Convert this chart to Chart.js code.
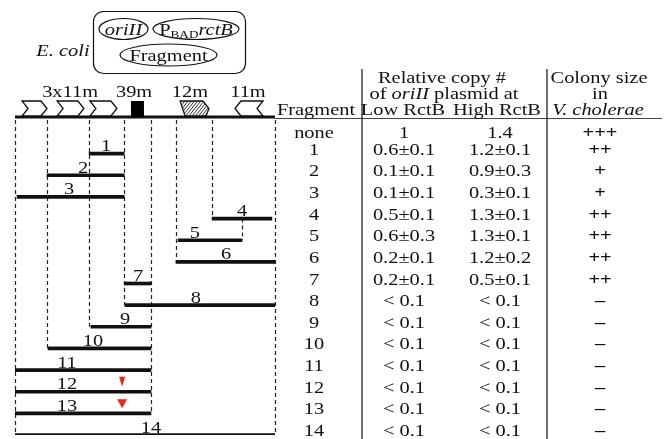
<!DOCTYPE html>
<html>
<head>
<meta charset="utf-8">
<script src="https://cdn.jsdelivr.net/npm/chart.js@4.4.1/dist/chart.umd.min.js"></script>
<style>
  html, body { margin: 0; padding: 0; background: #fff; }
  canvas { display: block; }
</style>
</head>
<body>
<canvas id="figure" width="665" height="439"></canvas>
<script>
// rows of the table, first one has no fragment
const rows = ['none', '1', '2', '3', '4', '5', '6', '7', '8', '9', '10', '11', '12', '13', '14'];
// fragment ends in map units (0 = left end of map, 100 = right end)
const fragStart = [null, 28.5, 12.3, 0.8, 75.8, 62.7, 61.9, 42, 42.3, 29.2, 12.7, 0, 0, 0, 0];
const fragEnd = [null, 42, 42, 42, 98.8, 87.3, 100, 52.3, 100, 52.3, 52.3, 52.3, 52.3, 52.3, 100];
const lowRctB = ['1', '0.6±0.1', '0.1±0.1', '0.1±0.1', '0.5±0.1', '0.6±0.3', '0.2±0.1', '0.2±0.1',
                 '< 0.1', '< 0.1', '< 0.1', '< 0.1', '< 0.1', '< 0.1', '< 0.1'];
const highRctB = ['1.4', '1.2±0.1', '0.9±0.3', '0.3±0.1', '1.3±0.1', '1.3±0.1', '1.2±0.2', '0.5±0.1',
                  '< 0.1', '< 0.1', '< 0.1', '< 0.1', '< 0.1', '< 0.1', '< 0.1'];
const colonySize = ['+++', '++', '+', '+', '++', '++', '++', '++', '–', '–', '–', '–', '–', '–', '–'];

// features on the map
const featureNames = ['3x11m', '39m', '12m', '11m'];
const featureLabelAt = [21.2, 45.8, 67.3, 89.6];
const repeatStart = [2.7, 16.2, 28.8];
const repeatEnd = [12.3, 26.5, 39.2];
const box39m = [44.6, 49.6];
const hatch12m = [63.5, 74.6];
const rev11m = [84.6, 95.4];

// red marks on fragments 12 and 13
const mutRows = [12, 13];
const mutAt = [41.2, 41.2];

// dashed guides: position, first row (0 = from the map), last row
const guideAt = [0, 12.3, 28.5, 42, 52.3, 61.9, 75.8, 87.3, 100];
const guideFrom = [0, 0, 0, 0, 0, 0, 0, 4, 0];
const guideTo = [14, 10, 9, 8, 13, 6, 4, 5, 14];

// where the fragment numbers sit
const labelAt = [null, 35, 26.2, 20.8, 87.3, 69.2, 81.2, 47.3, 69.6, 42.3, 30, 20, 20, 20, 52.3];

const SERIF = '"Liberation Serif", "Times New Roman", serif';
const STRETCH = 1.2;
const MAP_Y = 117;

function font(style, size) {
  return style + ' ' + size + 'px ' + SERIF;
}

function txt(ctx, s, x, y, f) {
  ctx.save();
  ctx.font = f || font('', 17);
  ctx.translate(x, y);
  ctx.scale(STRETCH, 1);
  ctx.textAlign = 'center';
  ctx.textBaseline = 'alphabetic';
  ctx.fillText(s, 0, 0);
  ctx.restore();
}

// pieces of text with their own font, centred on cx
function runs(ctx, parts, cx, y) {
  let total = 0;
  parts.forEach(p => {
    ctx.font = p.f;
    p.w = ctx.measureText(p.t).width * STRETCH;
    total += p.w;
  });
  let x = cx - total / 2;
  parts.forEach(p => {
    txt(ctx, p.t, x + p.w / 2, y + (p.dy || 0), p.f);
    x += p.w;
  });
}

function ellipse(ctx, cx, cy, rx, ry) {
  ctx.beginPath();
  ctx.ellipse(cx, cy, rx, ry, 0, 0, Math.PI * 2);
  ctx.stroke();
}

const decor = {
  id: 'decor',
  beforeDatasetsDraw(chart) {
    const ctx = chart.ctx;
    const xs = chart.scales.x, ys = chart.scales.y;
    ctx.save();
    ctx.strokeStyle = '#222';
    ctx.lineWidth = 1.2;
    ctx.setLineDash([4, 3]);
    guideAt.forEach((g, i) => {
      const x = Math.round(xs.getPixelForValue(g)) + 0.5;
      const y0 = guideFrom[i] === 0 ? MAP_Y + 3 : ys.getPixelForValue(guideFrom[i]);
      const y1 = ys.getPixelForValue(guideTo[i]);
      ctx.beginPath();
      ctx.moveTo(x, y0);
      ctx.lineTo(x, y1);
      ctx.stroke();
    });
    ctx.restore();
  },
  afterDatasetsDraw(chart) {
    const ctx = chart.ctx;
    const xs = chart.scales.x, ys = chart.scales.y;
    const px = v => xs.getPixelForValue(v);
    ctx.save();
    ctx.fillStyle = '#111';
    ctx.strokeStyle = '#111';

    // fragment numbers
    rows.forEach((r, i) => {
      if (labelAt[i] == null) return;
      txt(ctx, r, px(labelAt[i]), ys.getPixelForValue(i) - 2.5);
    });

    // red marks
    ctx.fillStyle = '#f0241c';
    mutRows.forEach((r, i) => {
      const x = px(mutAt[i]);
      const tip = ys.getPixelForValue(r) - 5;
      const hw = i === 0 ? 3 : 5, h = i === 0 ? 10 : 9;
      ctx.beginPath();
      ctx.moveTo(x - hw, tip - h);
      ctx.lineTo(x + hw, tip - h);
      ctx.lineTo(x, tip);
      ctx.closePath();
      ctx.fill();
    });
    ctx.fillStyle = '#111';

    // map line
    ctx.lineWidth = 3;
    ctx.beginPath();
    ctx.moveTo(px(0), MAP_Y);
    ctx.lineTo(px(100), MAP_Y);
    ctx.stroke();

    // features
    const top = 101, bot = 116, mid = (top + bot) / 2;
    ctx.lineWidth = 1.3;
    ctx.lineJoin = 'miter';
    repeatStart.forEach((s, i) => {
      const x0 = px(s), x1 = px(repeatEnd[i]), k = 6;
      ctx.beginPath();
      ctx.moveTo(x0, top); ctx.lineTo(x1 - k, top); ctx.lineTo(x1, mid);
      ctx.lineTo(x1 - k, bot); ctx.lineTo(x0, bot); ctx.lineTo(x0 + k, mid);
      ctx.closePath();
      ctx.fillStyle = '#fff'; ctx.fill(); ctx.stroke();
    });
    {
      const x0 = px(rev11m[0]), x1 = px(rev11m[1]), k = 6;
      ctx.beginPath();
      ctx.moveTo(x1, top); ctx.lineTo(x0 + k, top); ctx.lineTo(x0, mid);
      ctx.lineTo(x0 + k, bot); ctx.lineTo(x1, bot); ctx.lineTo(x1 - k, mid);
      ctx.closePath();
      ctx.fillStyle = '#fff'; ctx.fill(); ctx.stroke();
    }
    ctx.fillStyle = '#000';
    ctx.fillRect(px(box39m[0]), top, px(box39m[1]) - px(box39m[0]), bot - top + 1);
    {
      const x0 = px(hatch12m[0]), x1 = px(hatch12m[1]);
      const outline = () => {
        ctx.beginPath();
        ctx.moveTo(x0, top); ctx.lineTo(x1 - 6, top); ctx.lineTo(x1, mid);
        ctx.lineTo(x1 - 3, bot); ctx.lineTo(x0 + 5, bot);
        ctx.closePath();
      };
      outline();
      ctx.save();
      ctx.fillStyle = '#fff'; ctx.fill();
      ctx.clip();
      ctx.lineWidth = 1;
      ctx.strokeStyle = '#333';
      for (let x = x0 - 20; x < x1 + 5; x += 3.2) {
        ctx.beginPath();
        ctx.moveTo(x, bot);
        ctx.lineTo(x + 12, top);
        ctx.stroke();
      }
      ctx.restore();
      ctx.lineWidth = 1.3;
      outline();
      ctx.stroke();
    }
    ctx.fillStyle = '#111';
    featureNames.forEach((n, i) => txt(ctx, n, px(featureLabelAt[i]), 97));

    // E. coli box
    ctx.lineWidth = 1.2;
    ctx.beginPath();
    ctx.roundRect(93.5, 11.5, 152, 62, 10);
    ctx.stroke();
    ellipse(ctx, 123.5, 29, 24.5, 10.5);
    ellipse(ctx, 196, 29, 43, 10.5);
    ellipse(ctx, 168.5, 55, 48.5, 11);
    txt(ctx, 'E. coli', 63, 56, font('italic', 17));
    txt(ctx, 'oriII', 123.5, 34.5, font('italic', 17));
    runs(ctx, [
      { t: 'P', f: font('', 17) },
      { t: 'BAD', f: font('', 11), dy: 3 },
      { t: 'rctB', f: font('italic', 17) }
    ], 196, 34.5);
    txt(ctx, 'Fragment', 168.5, 61);

    // table frame
    ctx.lineWidth = 1;
    ctx.strokeStyle = '#444';
    ctx.beginPath();
    ctx.moveTo(px(100), 118.5);
    ctx.lineTo(662, 118.5);
    ctx.stroke();
    ctx.strokeStyle = '#222';
    ctx.lineWidth = 1.3;
    [362, 547].forEach(x => {
      ctx.beginPath();
      ctx.moveTo(x, 69);
      ctx.lineTo(x, 439);
      ctx.stroke();
    });

    // table header
    txt(ctx, 'Relative copy #', 442, 83);
    runs(ctx, [
      { t: 'of ', f: font('', 17) },
      { t: 'oriII', f: font('italic', 17) },
      { t: ' plasmid at', f: font('', 17) }
    ], 444, 99);
    txt(ctx, 'Fragment', 316, 115);
    txt(ctx, 'Low RctB', 403, 115);
    txt(ctx, 'High RctB', 497, 115);
    txt(ctx, 'Colony size', 599, 83);
    txt(ctx, 'in', 600, 99);
    txt(ctx, 'V. cholerae', 598, 115, font('italic', 17));

    // table body
    rows.forEach((r, i) => {
      const y = ys.getPixelForValue(i) + (i === 0 ? 6 : 1);
      txt(ctx, r, 314, y);
      txt(ctx, lowRctB[i], 404, y);
      txt(ctx, highRctB[i], 500, y);
      txt(ctx, colonySize[i], 600, y, font('bold', 17));
    });
    ctx.restore();
  }
};

new Chart(document.getElementById('figure'), {
  type: 'bar',
  data: {
    labels: rows,
    datasets: [{
      data: rows.map((r, i) => fragStart[i] == null ? null : [fragStart[i], fragEnd[i]]),
      backgroundColor: '#111',
      barThickness: 3,
      borderSkipped: false
    }]
  },
  options: {
    indexAxis: 'y',
    responsive: false,
    animation: false,
    layout: { padding: { left: 15, right: 390, top: 132, bottom: 4 } },
    scales: {
      x: { type: 'linear', min: 0, max: 100, display: false },
      y: { type: 'category', offset: false, display: false }
    },
    plugins: {
      legend: { display: false },
      tooltip: { enabled: false }
    }
  },
  plugins: [decor]
});
</script>
</body>
</html>
